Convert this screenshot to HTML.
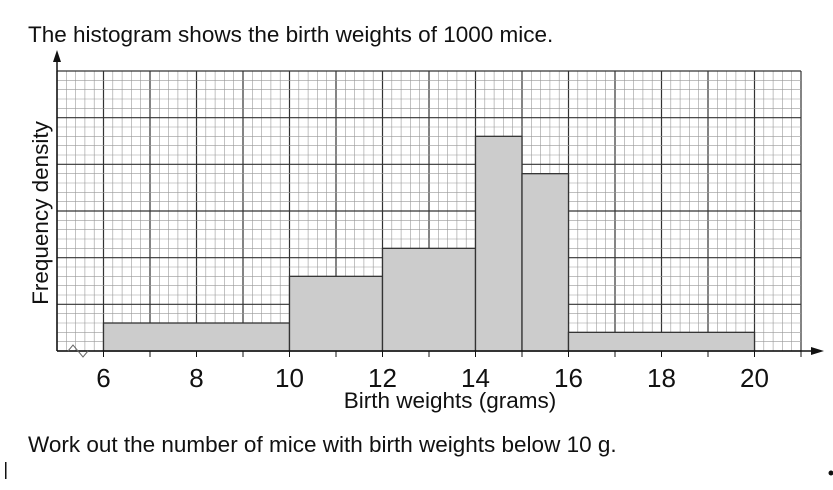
<!DOCTYPE html>
<html><head><meta charset="utf-8"><style>
html,body{margin:0;padding:0;background:#fff;width:833px;height:490px;overflow:hidden}
svg{display:block;font-family:"Liberation Sans",Arial,sans-serif}
</style></head><body>
<svg id="c" width="833" height="490">
<text x="28" y="42" font-size="22.5" fill="#111">The histogram shows the birth weights of 1000 mice.</text>
<g id="grid"></g>
<g id="bars"></g>
<g id="axes"></g>
<text x="48" y="213" font-size="22.5" fill="#111" text-anchor="middle" transform="rotate(-90 48 213)">Frequency density</text>
<text x="450" y="408" font-size="22.5" fill="#111" text-anchor="middle">Birth weights (grams)</text>
<text x="28" y="452" font-size="22.5" fill="#111">Work out the number of mice with birth weights below 10 g.</text>
<rect x="5" y="462" width="1.5" height="17" fill="#111"></rect>
<circle cx="831" cy="473" r="2.5" fill="#111"></circle>
</svg>
<script>
const binStarts=[6,10,12,14,15,16];
const binEnds=[10,12,14,15,16,20];
const densities=[30,80,110,230,190,20];
const xTicks=[6,8,10,12,14,16,18,20];
const X0=57,PX=46.5,Y0=351,PY=280/300;
const sx=v=>X0+(v-5)*PX;
const sy=v=>Y0-v*PY;
const NS="http://www.w3.org/2000/svg";
function mk(tag,attrs,parent){const e=document.createElementNS(NS,tag);for(const k in attrs)e.setAttribute(k,attrs[k]);parent.appendChild(e);return e;}
const grid=document.getElementById('grid'),bars=document.getElementById('bars'),axes=document.getElementById('axes');
for(let i=0;i<=80;i++){const x=sx(5+i*0.2);const maj=i%5===0;
 const l=mk('line',{x1:x,x2:x,y1:sy(300),y2:Y0,stroke:maj?'#333':'#999','stroke-width':maj?1.2:0.6},grid);
 
 }
for(let j=0;j<=30;j++){const y=sy(j*10);const maj=j%5===0;
 const l=mk('line',{x1:X0,x2:sx(21),y1:y,y2:y,stroke:maj?'#333':'#999','stroke-width':maj?1.2:0.6},grid);
 
 }
for(let i=0;i<densities.length;i++){
 const r=mk('rect',{x:sx(binStarts[i]),y:sy(densities[i]),width:sx(binEnds[i])-sx(binStarts[i]),height:Y0-sy(densities[i]),fill:'#cccccc',stroke:'#333','stroke-width':1.3},bars);
 
 }
let a=mk('line',{x1:X0,x2:X0,y1:Y0,y2:58,stroke:'#111','stroke-width':1.5},axes);


a=mk('path',{d:`M${X0-4},62 L${X0},50 L${X0+4},62 Z`,fill:'#111'},axes);


a=mk('line',{x1:X0,x2:815,y1:Y0,y2:Y0,stroke:'#111','stroke-width':1.5},axes);


a=mk('path',{d:`M811,${Y0-4} L824,${Y0} L811,${Y0+4} Z`,fill:'#111'},axes);


a=mk('path',{d:`M68,${Y0} L73,${Y0-6} L83,${Y0+6} L88,${Y0}`,fill:'none',stroke:'#666','stroke-width':1},axes);


for(let v=6;v<=21;v++){const t=mk('line',{x1:sx(v),x2:sx(v),y1:Y0,y2:Y0+6,stroke:'#111','stroke-width':1},axes);
 
 }
xTicks.forEach(v=>{const t=mk('text',{x:sx(v),y:387,'font-size':26,'text-anchor':'middle',fill:'#111'},axes);t.textContent=v;
 
 });
</script>
</body></html>
